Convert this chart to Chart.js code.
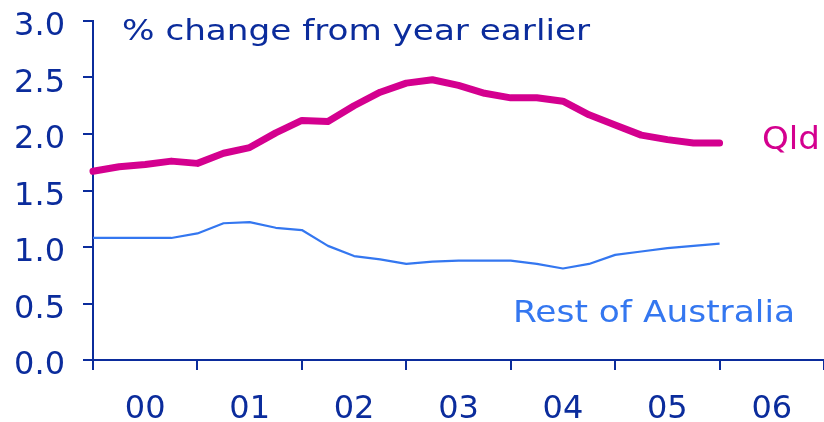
<!DOCTYPE html>
<html>
<head>
<meta charset="utf-8">
<script src="https://cdn.jsdelivr.net/npm/chart.js@4/dist/chart.umd.min.js"></script>
<style>
html,body{margin:0;padding:0;background:#fff;}
#wrap{width:824px;height:422px;position:relative;}
</style>
</head>
<body>
<div id="wrap"><canvas id="c" width="824" height="422"></canvas></div>
<script>
// Year labels (placed mid-year), quarterly series
const yearLabels = ['00', '01', '02', '03', '04', '05', '06'];
const yTickValues = [0, 0.5, 1, 1.5, 2, 2.5, 3];
const qld = [1.67, 1.71, 1.73, 1.76, 1.74, 1.83, 1.88, 2.01, 2.12, 2.11, 2.25, 2.37, 2.45, 2.48, 2.43, 2.36, 2.32, 2.32, 2.29, 2.17, 2.08, 1.99, 1.95, 1.92, 1.92];
const restOfAustralia = [1.08, 1.08, 1.08, 1.08, 1.12, 1.21, 1.22, 1.17, 1.15, 1.01, 0.92, 0.89, 0.85, 0.87, 0.88, 0.88, 0.88, 0.85, 0.81, 0.85, 0.93, 0.96, 0.99, 1.01, 1.03];
const titleText = '% change from year earlier';
const qldLabel = 'Qld';
const restLabel = 'Rest of Australia';

const NAVY = '#0b2c9c';
const MAGENTA = '#d4008f';
const BLUE = '#3477f0';
const FONT = "'DejaVu Sans', Verdana, sans-serif";

function drawStretched(ctx, text, x, y, size, targetWidth, color) {
  ctx.save();
  ctx.font = size + 'px ' + FONT;
  ctx.textBaseline = 'middle';
  ctx.textAlign = 'left';
  ctx.fillStyle = color;
  const w = ctx.measureText(text).width;
  ctx.translate(x, y);
  ctx.scale(targetWidth / w, 1);
  ctx.fillText(text, 0, 0);
  ctx.restore();
}

const labelsPlugin = {
  id: 'labels',
  afterDatasetsDraw(chart) {
    const ctx = chart.ctx;
    drawStretched(ctx, titleText, 122, 32, 29, 468, NAVY);
    drawStretched(ctx, qldLabel, 762, 141, 32, 58, MAGENTA);
    drawStretched(ctx, restLabel, 513, 314, 31, 282, BLUE);
  }
};

new Chart(document.getElementById('c'), {
  type: 'line',
  data: {
    datasets: [
      {
        label: qldLabel,
        data: qld.map((v, i) => ({x: i, y: v})),
        borderColor: MAGENTA,
        borderWidth: 7,
        borderCapStyle: 'round',
        borderJoinStyle: 'round',
        pointRadius: 0,
        tension: 0,
        fill: false
      },
      {
        label: restLabel,
        data: restOfAustralia.map((v, i) => ({x: i, y: v})),
        borderColor: BLUE,
        borderWidth: 2.2,
        borderJoinStyle: 'round',
        pointRadius: 0,
        tension: 0,
        fill: false
      }
    ]
  },
  options: {
    responsive: false,
    animation: false,
    clip: false,
    layout: {padding: {top: 21, right: 0, left: 0, bottom: 0}},
    plugins: {legend: {display: false}, tooltip: {enabled: false}, title: {display: false}},
    scales: {
      x: {
        type: 'linear',
        min: 0,
        max: yearLabels.length * 4,
        afterBuildTicks(scale) {
          const t = [];
          for (let v = 0; v <= yearLabels.length * 4; v += 2) t.push({value: v});
          scale.ticks = t;
        },
        afterFit(scale) {
          scale.height = 62;
          scale.paddingLeft = 0; scale.paddingRight = 0;
        },
        ticks: {
          autoSkip: false,
          maxRotation: 0,
          minRotation: 0,
          padding: 20,
          color: NAVY,
          font: {family: FONT, size: 32},
          callback(v) {
            if (v % 4 === 2) return yearLabels[(v - 2) / 4];
            return '';
          }
        },
        grid: {
          drawOnChartArea: false,
          tickLength: 10,
          lineWidth: 2,
          tickColor: (c) => (c.tick && c.tick.value % 4 === 0) ? NAVY : 'rgba(0,0,0,0)'
        },
        border: {color: NAVY, width: 2}
      },
      y: {
        min: 0,
        max: 3,
        afterBuildTicks(scale) { scale.ticks = yTickValues.map(v => ({value: v})); },
        afterFit(scale) {
          scale.width = 93;
          scale.paddingTop = 0; scale.paddingBottom = 0;
        },
        ticks: {
          padding: 18,
          labelOffset: 6,
          color: NAVY,
          font: {family: FONT, size: 32},
          callback: (v) => Number(v).toFixed(1)
        },
        grid: {drawOnChartArea: false, tickLength: 10, lineWidth: 2, tickColor: NAVY},
        border: {color: NAVY, width: 2}
      }
    }
  },
  plugins: [labelsPlugin]
});
</script>
</body>
</html>
